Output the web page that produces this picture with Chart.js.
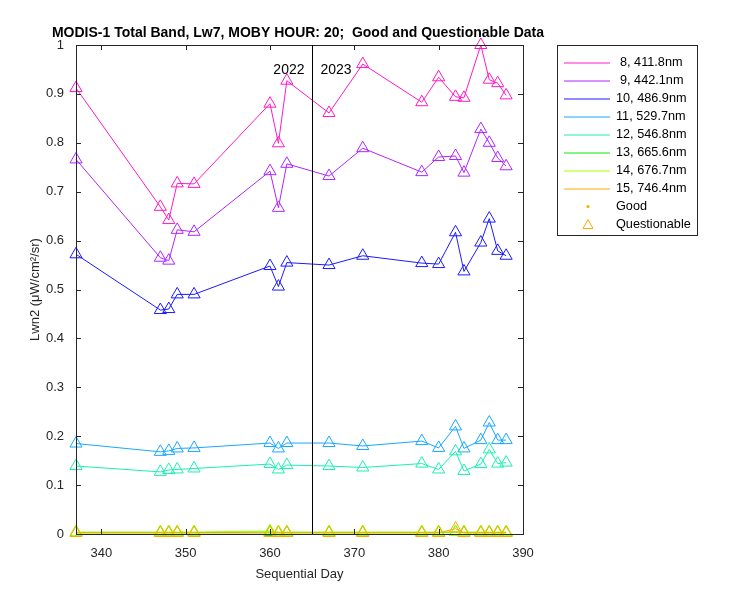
<!DOCTYPE html>
<html>
<head>
<meta charset="utf-8">
<script src="https://cdn.jsdelivr.net/npm/chart.js@4"></script>
<style>body{margin:0;background:#fff}#c{width:750px;height:600px}</style>
</head>
<body>
<canvas id="c" width="750" height="600"></canvas>
<script>
/*********************data*********************/
const days = [337,347,348,349,351,360,361,362,367,371,378,380,382,383,385,386,387,388];
const lw8  = [0.912,0.669,0.642,0.717,0.716,0.880,0.799,0.927,0.861,0.961,0.883,0.934,0.894,0.892,1.000,0.929,0.922,0.897];
const lw9  = [0.766,0.565,0.559,0.622,0.618,0.742,0.667,0.757,0.732,0.789,0.740,0.771,0.773,0.739,0.828,0.800,0.769,0.752];
const lw10 = [0.572,0.458,0.460,0.490,0.490,0.548,0.506,0.555,0.550,0.569,0.554,0.552,0.617,0.537,0.596,0.645,0.579,0.569];
const lw11 = [0.185,0.168,0.170,0.175,0.176,0.186,0.175,0.186,0.186,0.180,0.190,0.176,0.220,0.175,0.192,0.228,0.192,0.192];
const lw12 = [0.139,0.127,0.131,0.132,0.134,0.143,0.132,0.141,0.139,0.136,0.144,0.132,0.169,0.129,0.143,0.173,0.144,0.146];
const lw13 = [0.003,0.003,0.003,0.003,0.003,0.004,0.003,0.003,0.003,0.003,0.003,0.003,0.004,0.003,0.003,0.003,0.003,0.003];
const lw14 = [0.004,0.004,0.004,0.004,0.004,0.006,0.004,0.004,0.004,0.004,0.004,0.004,0.004,0.004,0.004,0.004,0.004,0.004];
const lw15 = [0.002,0.002,0.002,0.002,0.002,0.002,0.002,0.002,0.002,0.002,0.002,0.002,0.011,0.002,0.002,0.002,0.002,0.002];
const names = ['8, 411.8nm','9, 442.1nm','10, 486.9nm','11, 529.7nm','12, 546.8nm','13, 665.6nm','14, 676.7nm','15, 746.4nm'];
const colors = ['#ff1ac6','#b025ff','#1a1aff','#18a8ff','#19f0b0','#00ee00','#a6ff00','#ffaa00'];
const xTicks = [340,350,360,370,380,390];
const yearLine = 365;

let series = [lw8,lw9,lw10,lw11,lw12,lw13,lw14,lw15];
let datasets = series.map((s,i) => ({
  label: names[i],
  data: s.map((v,j) => ({x: days[j], y: v})),
  order: series.length - i,
  borderColor: colors[i],
  borderWidth: 1,
  clip: false,
  pointStyle: 'triangle',
  pointRadius: 7,
  pointBorderWidth: 1,
  pointBackgroundColor: 'rgba(0,0,0,0)',
  pointBorderColor: colors[i]
}));

const font = 'Arial, "Liberation Sans", sans-serif';

/**************plugin: frame, ticks, year, title, legend */
const deco = {
  id: 'deco',
  afterDraw(chart){
    const c = chart.ctx, a = chart.chartArea;
    const xs = chart.scales.x, ys = chart.scales.y;
    c.save();
    c.strokeStyle = '#262626'; c.lineWidth = 1;
    c.strokeRect(a.left+0.5, a.top+0.5, a.right-a.left, a.bottom-a.top);
    c.beginPath();
    xTicks.forEach(t => {
      let px = Math.round(xs.getPixelForValue(t))+0.5;
      c.moveTo(px,a.bottom); c.lineTo(px,a.bottom-5);
      c.moveTo(px,a.top); c.lineTo(px,a.top+5);
    });
    for(let k=0;k<=10;k++){
      let py = Math.round(ys.getPixelForValue(k/10))+0.5;
      c.moveTo(a.left,py); c.lineTo(a.left+5,py);
      c.moveTo(a.right,py); c.lineTo(a.right-5,py);
    }
    c.stroke();
    // year separator
    let yx = Math.round(xs.getPixelForValue(yearLine))+0.5;
    c.strokeStyle = '#000';
    c.beginPath(); c.moveTo(yx,a.top); c.lineTo(yx,a.bottom); c.stroke();
    c.fillStyle = '#000'; c.font = '14px '+font; c.textBaseline = 'middle';
    c.textAlign = 'right'; c.fillText('2022', yx-8, 70);
    c.textAlign = 'left'; c.fillText('2023', yx+8, 70);
    // title
    c.font = 'bold 14px '+font; c.textAlign = 'center';
    c.fillText('MODIS-1 Total Band, Lw7, MOBY HOUR: 20;  Good and Questionable Data', 298, 33);
    // legend
    let lx = 557, ly = 45;
    c.fillStyle = '#fff'; c.fillRect(lx, ly, 140, 190);
    c.strokeStyle = '#262626'; c.strokeRect(lx+0.5, ly+0.5, 140, 190);
    c.font = '12.7px '+font; c.textAlign = 'left';
    names.forEach((n,i) => {
      let y = ly + 17.5 + i*18;
      c.strokeStyle = colors[i];
      c.beginPath(); c.moveTo(lx+7,y+0.5); c.lineTo(lx+53,y+0.5); c.stroke();
      c.fillStyle = '#000';
      c.fillText(n, lx + (i<2 ? 63 : 59), y);
    });
    let gy = ly + 17.5 + 8*18;
    c.fillStyle = '#ffaa00';
    c.beginPath(); c.arc(lx+31, gy, 1.5, 0, Math.PI*2); c.fill();
    c.fillStyle = '#000'; c.fillText('Good', lx+59, gy);
    let qy = gy + 18;
    c.strokeStyle = '#ffaa00';
    c.beginPath(); c.moveTo(lx+31,qy-5); c.lineTo(lx+36,qy+4); c.lineTo(lx+26,qy+4); c.closePath(); c.stroke();
    c.fillText('Questionable', lx+59, qy);
    c.restore();
  }
};

new Chart(document.getElementById('c'), {
  type: 'line',
  data: {datasets: datasets},
  plugins: [deco],
  options: {
    responsive: false,
    animation: false,
    layout: {padding: {top: 45, right: 227, left: 24, bottom: 14}},
    plugins: {legend: {display: false}, tooltip: {enabled: false}},
    scales: {
      x: {
        type: 'linear', min: 337, max: 390,
        afterBuildTicks: s => { s.ticks = xTicks.map(v => ({value: v})); },
        afterFit: s => { s.height = 52; },
        grid: {display: false}, border: {display: false},
        ticks: {color: '#262626', font: {family: font, size: 13}, padding: 4, maxRotation: 0},
        title: {display: true, text: 'Sequential Day', color: '#262626', font: {family: font, size: 13}, padding: {top: 2}}
      },
      y: {
        min: 0, max: 1,
        afterFit: s => { s.width = 52; },
        grid: {display: false}, border: {display: false},
        ticks: {stepSize: 0.1, color: '#262626', font: {family: font, size: 13}, padding: 4,
          callback: v => String(Math.round(v*10)/10)},
        title: {display: true, text: 'Lwn2 (μW/cm²/sr)', color: '#262626', font: {family: font, size: 13}, padding: {bottom: 2}}
      }
    }
  }
});
</script>
</body>
</html>
